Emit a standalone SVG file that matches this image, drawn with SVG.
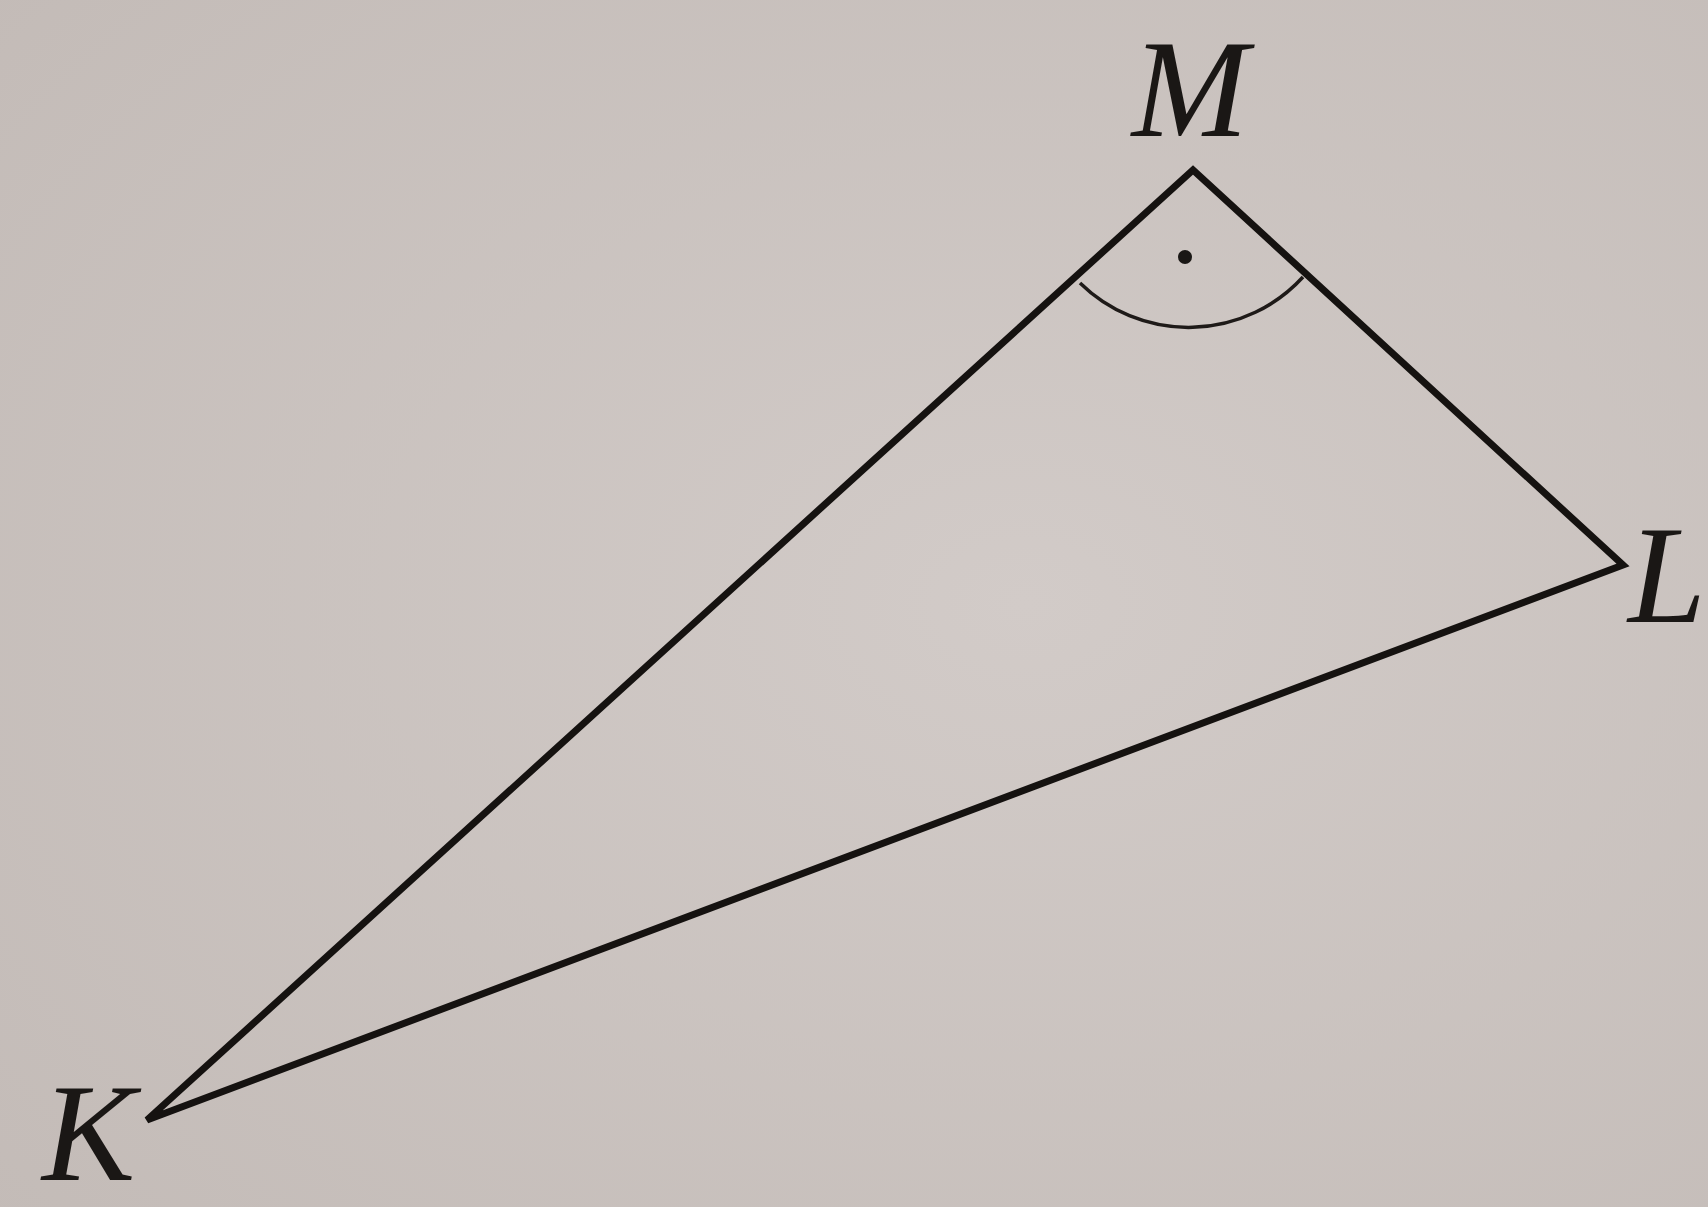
<svg xmlns="http://www.w3.org/2000/svg" width="1708" height="1207" viewBox="0 0 1708 1207">
<style>
.side{stroke:#151210;stroke-width:7;fill:none;stroke-linejoin:miter;stroke-linecap:round}
.arc{stroke:#1e1a18;stroke-width:3.5;fill:none}
.lbl{font-family:"Liberation Serif",serif;font-style:italic;font-size:140px;fill:#1a1715}
</style>
<defs>
<radialGradient id="bg" cx="0.6" cy="0.5" r="0.8">
<stop offset="0" stop-color="#d2cbc8"/>
<stop offset="1" stop-color="#c3bbb7"/>
</radialGradient>
</defs>
<rect width="1708" height="1207" fill="url(#bg)"/>
<g id="connectors">
<polygon class="side" points="147,1120 1193,170 1623,565"/>
</g>
<g id="angleM">
<path class="arc" d="M1080,283 A155,155 0 0 0 1303,277"/>
<circle cx="1185" cy="257" r="7" fill="#1a1715"/>
</g>
<g id="M"><text class="lbl" x="1190" y="136" text-anchor="middle">M</text></g>
<g id="L"><text class="lbl" x="1628" y="622" font-size="128">L</text></g>
<g id="K"><text class="lbl" x="42" y="1180" font-size="124">K</text></g>
</svg>
